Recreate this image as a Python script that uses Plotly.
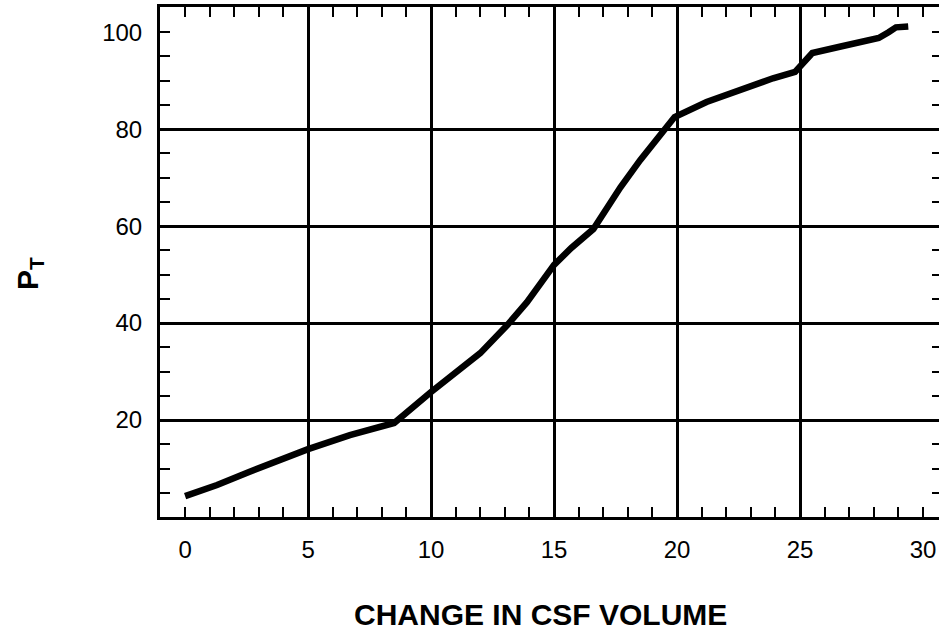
import plotly.graph_objects as go

# Pressure vs. change in CSF volume
csf_volume = [0, 1.3, 2.6, 5.0, 6.7, 8.5, 10.0, 12.0, 13.1, 13.9, 15.0, 15.7,
              16.6, 17.0, 17.7, 18.5, 19.3, 19.9, 21.2, 22.6, 23.9, 24.8,
              25.5, 26.7, 28.2, 28.6, 28.9, 29.4]
pressure = [4.3, 6.6, 9.3, 14.0, 16.9, 19.4, 25.8, 33.8, 39.6, 44.3, 52.0, 55.5,
            59.4, 62.7, 68.0, 73.6, 78.4, 82.5, 85.6, 88.2, 90.5, 91.8,
            95.7, 97.1, 98.8, 100.0, 101.0, 101.2]

x_ticks = [0, 5, 10, 15, 20, 25, 30]
y_ticks = [20, 40, 60, 80, 100]
x_grid = [5, 10, 15, 20, 25]
y_grid = [20, 40, 60, 80]
y_minor = list(range(5, 105, 5))

x_title = "CHANGE IN CSF VOLUME"
y_title = "<b>P</b><sub><b>T</b></sub>"

X_RANGE = [-1.02, 30.65]
Y_RANGE = [0, 105.2]
FONT = "Liberation Sans, Arial, Helvetica, sans-serif"

fig = go.Figure()
fig.add_trace(go.Scatter(
    x=csf_volume, y=pressure, mode="lines",
    line=dict(color="black", width=6.5, shape="linear"),
    showlegend=False, hoverinfo="skip",
))

fig.update_layout(
    width=939, height=631,
    margin=dict(l=160, r=0, t=7, b=114),
    paper_bgcolor="white", plot_bgcolor="white",
    font=dict(family=FONT, color="black", size=24),
    xaxis=dict(
        range=X_RANGE, tickvals=x_ticks, ticktext=[str(v) for v in x_ticks],
        showgrid=False, zeroline=False,
        showline=True, linecolor="black", linewidth=3, mirror="allticks",
        ticks="inside", ticklen=10, tickwidth=2, tickcolor="black",
        minor=dict(dtick=1, tick0=0, ticks="inside", ticklen=10,
                   tickwidth=2, tickcolor="black", showgrid=False),
        ticklabelstandoff=9,
        tickfont=dict(size=24, family=FONT),
    ),
    yaxis=dict(
        range=Y_RANGE, tickvals=y_ticks, ticktext=[str(v) for v in y_ticks],
        showgrid=False, zeroline=False,
        showline=True, linecolor="black", linewidth=3, mirror=False,
        ticks="inside", ticklen=10, tickwidth=2, tickcolor="black",
        minor=dict(dtick=5, tick0=0, ticks="inside", ticklen=10,
                   tickwidth=2, tickcolor="black", showgrid=False),
        ticklabelstandoff=10,
        tickfont=dict(size=24, family=FONT),
    ),
    # vertical grid lines
    xaxis2=dict(
        overlaying="x", matches="x", range=X_RANGE, tickvals=x_grid,
        showgrid=True, gridcolor="black", gridwidth=3,
        showticklabels=False, ticks="", showline=False, zeroline=False,
    ),
    # right-hand tick marks
    yaxis2=dict(
        overlaying="y", side="right", range=Y_RANGE, tickvals=y_minor,
        showgrid=False, showticklabels=False, showline=False, zeroline=False,
        ticks="inside", ticklen=7, tickwidth=2, tickcolor="black",
    ),
    # horizontal grid lines
    yaxis3=dict(
        overlaying="y", range=Y_RANGE, tickvals=y_grid,
        showgrid=True, gridcolor="black", gridwidth=2.5,
        showticklabels=False, ticks="", showline=False, zeroline=False,
    ),
    annotations=[
        dict(text=f"<b>{x_title}</b>", xref="paper", yref="paper",
             x=(540 - 160) / 779, y=(517 - 614) / 510,
             xanchor="center", yanchor="middle", showarrow=False,
             font=dict(size=30, family=FONT, color="black")),
        dict(text=y_title, xref="paper", yref="paper",
             x=(29 - 160) / 779, y=(517 - 274) / 510, textangle=-90,
             xanchor="center", yanchor="middle", showarrow=False,
             font=dict(size=30, family=FONT, color="black")),
    ],
)

# Empty traces anchoring the overlay axes so they are drawn
fig.add_trace(go.Scatter(x=[None], y=[None], xaxis="x2", yaxis="y3",
                         showlegend=False, hoverinfo="skip"))
fig.add_trace(go.Scatter(x=[None], y=[None], xaxis="x", yaxis="y2",
                         showlegend=False, hoverinfo="skip"))

fig.write_html("out.html")
